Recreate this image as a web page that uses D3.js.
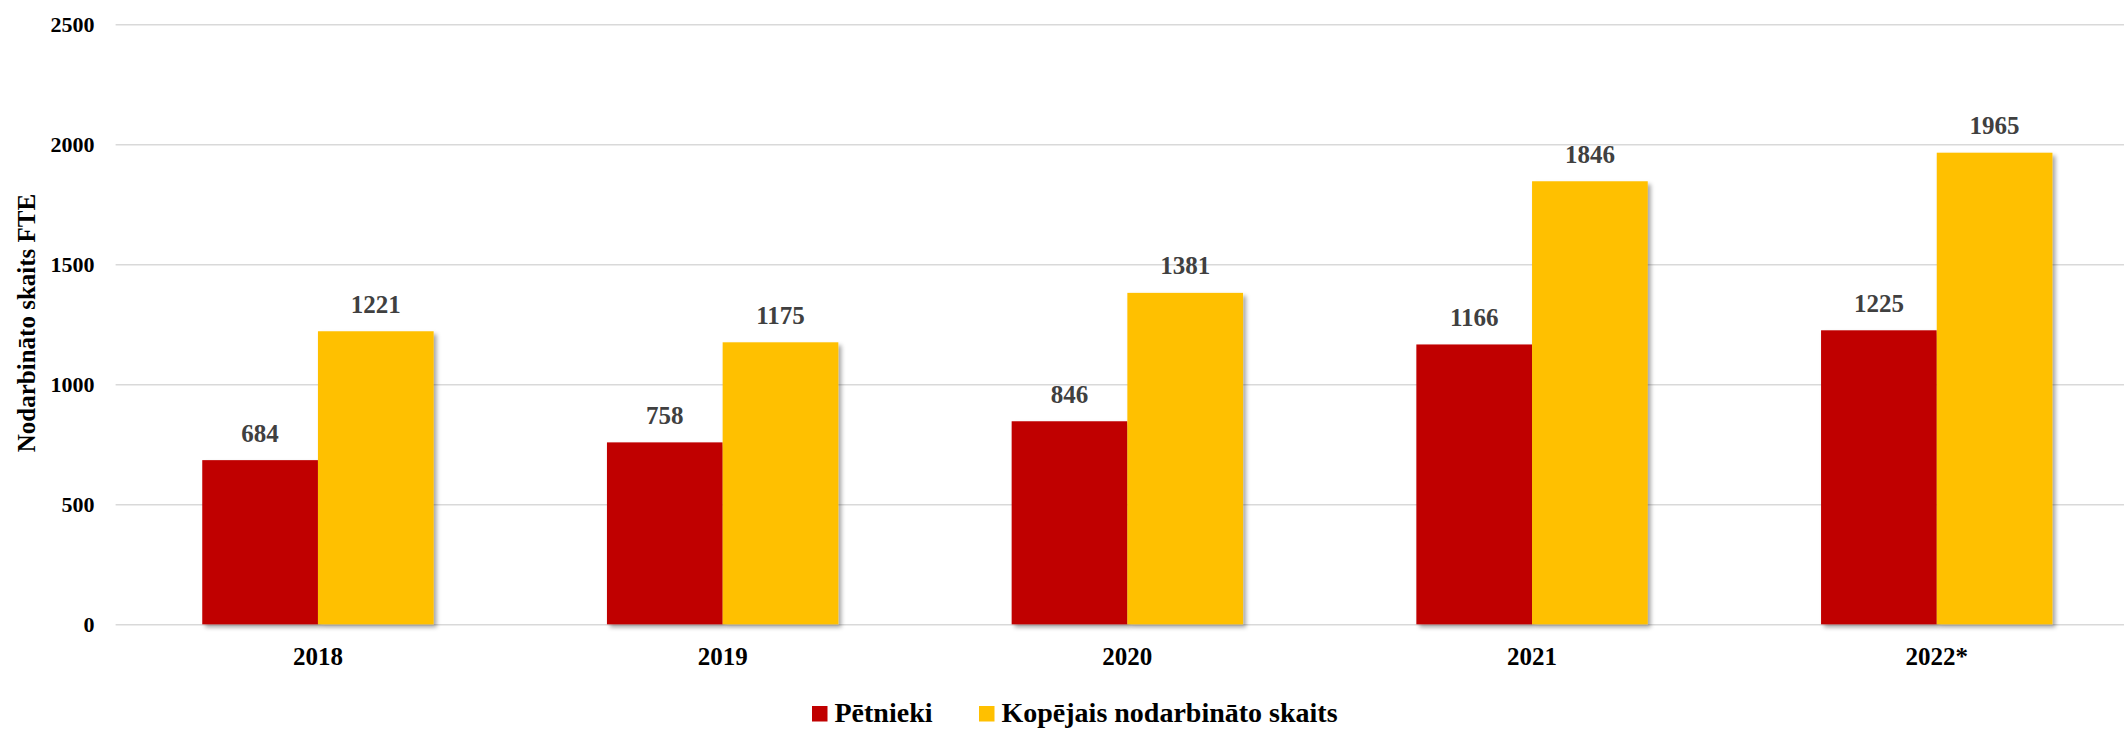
<!DOCTYPE html>
<html>
<head>
<meta charset="utf-8">
<script src="https://cdn.jsdelivr.net/npm/d3@7"></script>
<style>
  html, body { margin: 0; padding: 0; background: #fff; }
  svg { display: block; }
</style>
</head>
<body>
<svg id="chart" width="2124" height="729"></svg>
<script>
const categories = ["2018", "2019", "2020", "2021", "2022*"];
const seriesNames = ["Pētnieki", "Kopējais nodarbināto skaits"];
const researchers = [684, 758, 846, 1166, 1225];
const totalEmployed = [1221, 1175, 1381, 1846, 1965];
const yTicks = [0, 500, 1000, 1500, 2000, 2500];
const colors = ["#C00000", "#FFC000"];
const yTitle = "Nodarbināto skaits FTE";

const seriesValues = [researchers, totalEmployed];
const rows = categories.map((c, i) => ({
  cat: c,
  vals: seriesNames.map((s, j) => ({ series: s, idx: j, value: seriesValues[j][i] }))
}));

const svg = d3.select("#chart");
const font = "'Liberation Serif', 'Times New Roman', serif";

const defs = svg.append("defs");
const f = defs.append("filter").attr("id", "shadow")
  .attr("x", "-10%").attr("y", "-10%").attr("width", "130%").attr("height", "130%");
f.append("feDropShadow").attr("dx", 3).attr("dy", 3).attr("stdDeviation", 2.2)
  .attr("flood-color", "#000").attr("flood-opacity", 0.35);

const y = d3.scaleLinear().domain([0, 2500]).range([624.3, 24.3]);
const x = d3.scaleBand().domain(categories).range([115.6, 2139.1]).paddingInner(0).paddingOuter(0);
const xs = d3.scaleBand().domain(d3.range(seriesNames.length)).range([0, x.bandwidth()])
  .paddingInner(0).paddingOuter(0.749);

// gridlines
const yAxis = d3.axisLeft(y).tickValues(yTicks).tickFormat(d3.format("d"))
  .tickSize(-(2124 - 115.6)).tickPadding(21);
const gy = svg.append("g").attr("transform", "translate(115.6,0)").call(yAxis);
gy.select(".domain").remove();
gy.selectAll(".tick line").attr("stroke", "#d9d9d9").attr("stroke-width", 1.5);
gy.selectAll(".tick text")
  .attr("font-family", font).attr("font-weight", "bold").attr("font-size", 22)
  .attr("fill", "#000").attr("dy", "0.33em");

// bars
const groups = svg.append("g").selectAll("g.grp").data(rows).join("g")
  .attr("class", "grp")
  .attr("transform", d => `translate(${x(d.cat)},0)`);

groups.selectAll("rect").data(d => d.vals).join("rect")
  .attr("x", d => xs(d.idx))
  .attr("width", xs.bandwidth())
  .attr("y", d => y(d.value))
  .attr("height", d => y(0) - y(d.value))
  .attr("fill", d => colors[d.idx])
  .attr("filter", "url(#shadow)");

groups.selectAll("text.val").data(d => d.vals).join("text")
  .attr("class", "val")
  .attr("x", d => xs(d.idx) + xs.bandwidth() / 2)
  .attr("y", d => y(d.value) - 18.5)
  .attr("text-anchor", "middle")
  .attr("font-family", font).attr("font-weight", "bold").attr("font-size", 25)
  .attr("fill", "#404040")
  .text(d => d.value);

// x axis labels
const xAxis = d3.axisBottom(x).tickSize(0).tickPadding(0);
const gx = svg.append("g").attr("transform", "translate(0,624.3)").call(xAxis);
gx.select(".domain").remove();
gx.selectAll(".tick text")
  .attr("font-family", font).attr("font-weight", "bold").attr("font-size", 25)
  .attr("fill", "#000").attr("dy", null).attr("y", 40.7);

// y title
svg.append("text")
  .attr("transform", "translate(35,323) rotate(-90)")
  .attr("text-anchor", "middle")
  .attr("font-family", font).attr("font-weight", "bold").attr("font-size", 25)
  .attr("fill", "#000")
  .text(yTitle);

// legend
const legendX = [812, 979];
const leg = svg.append("g").selectAll("g").data(seriesNames).join("g")
  .attr("transform", (d, i) => `translate(${legendX[i]},0)`);
leg.append("rect").attr("x", 0).attr("y", 706).attr("width", 15.5).attr("height", 15.5)
  .attr("fill", (d, i) => colors[i]);
leg.append("text").attr("x", 22.5).attr("y", 721.5)
  .attr("font-family", font).attr("font-weight", "bold").attr("font-size", 28)
  .attr("fill", "#000")
  .text(d => d);
</script>
</body>
</html>
